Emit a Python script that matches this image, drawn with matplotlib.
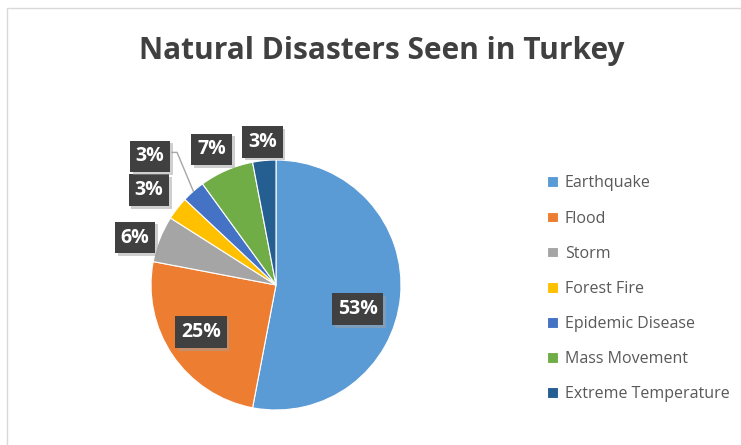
import numpy as np
import matplotlib.pyplot as plt
import matplotlib.patheffects as pe
from matplotlib.patches import Rectangle

categories = ['Earthquake', 'Flood', 'Storm', 'Forest Fire', 'Epidemic Disease',
              'Mass Movement', 'Extreme Temperature']
values = [53, 25, 6, 3, 3, 7, 3]
colours = ['#5B9BD5', '#ED7D31', '#A5A5A5', '#FFC000', '#4472C4', '#70AD47', '#255E91']

# label placement (fraction of radius, angle nudge in degrees)
label_r = [0.68, 0.71, 1.19, 1.27, 1.44, 1.2, 1.15]
label_da = [-11, -2, 3, 1, 3, 2, 0]

W, H = 741, 445
fig = plt.figure(figsize=(W / 100, H / 100), dpi=100)
ax = fig.add_axes([0, 0, 1, 1])

cx, cy, R = 276, 160, 125
wedges, _ = ax.pie(values, colors=colours, startangle=90, counterclock=False,
                   center=(cx, cy), radius=R, frame=True,
                   wedgeprops=dict(edgecolor='white', linewidth=0.8))
ax.set_xlim(0, W)
ax.set_ylim(0, H)
ax.axis('off')

# chart area border
ax.add_patch(Rectangle((7, -10), W + 10, H - 8 + 10, fill=False, edgecolor='#D9D9D9', lw=1))

font = 'Open Sans'
for i, w in enumerate(wedges):
    mid = np.deg2rad((w.theta1 + w.theta2) / 2 + label_da[i])
    x = cx + label_r[i] * R * np.cos(mid)
    y = cy + label_r[i] * R * np.sin(mid)
    t = ax.text(x, y, f'{values[i]}%', ha='center', va='center', fontsize=14,
                fontweight='bold', family=font, color='white',
                bbox=dict(boxstyle='square,pad=0.3', fc='#404040', ec='none'))
    t.get_bbox_patch().set_path_effects([
        pe.SimplePatchShadow(offset=(2, -2), shadow_rgbFace='#A0A0A0', alpha=0.5),
        pe.Normal()])
    if label_r[i] > 1.35:
        ea = np.deg2rad((w.theta1 + w.theta2) / 2)
        ex, ey = cx + R * np.cos(ea), cy + R * np.sin(ea)
        ax.plot([x + 22, x + 27, ex], [y + 4, y + 4, ey], color='#A6A6A6', lw=1)

ax.text(W / 2 + 11, 394, 'Natural Disasters Seen in Turkey', ha='center', va='center',
        fontsize=21.5, fontweight='bold', family=font, color='#404040')

leg = ax.legend(wedges, categories, loc='upper left', bbox_to_anchor=(533 / W, 1 - 161 / H),
                frameon=False, handlelength=0.65, handleheight=0.65, handletextpad=0.45,
                labelspacing=1.2, prop=dict(family=font, size=11.5))
for t in leg.get_texts():
    t.set_color('#595959')

plt.savefig('out.png', dpi=100)
